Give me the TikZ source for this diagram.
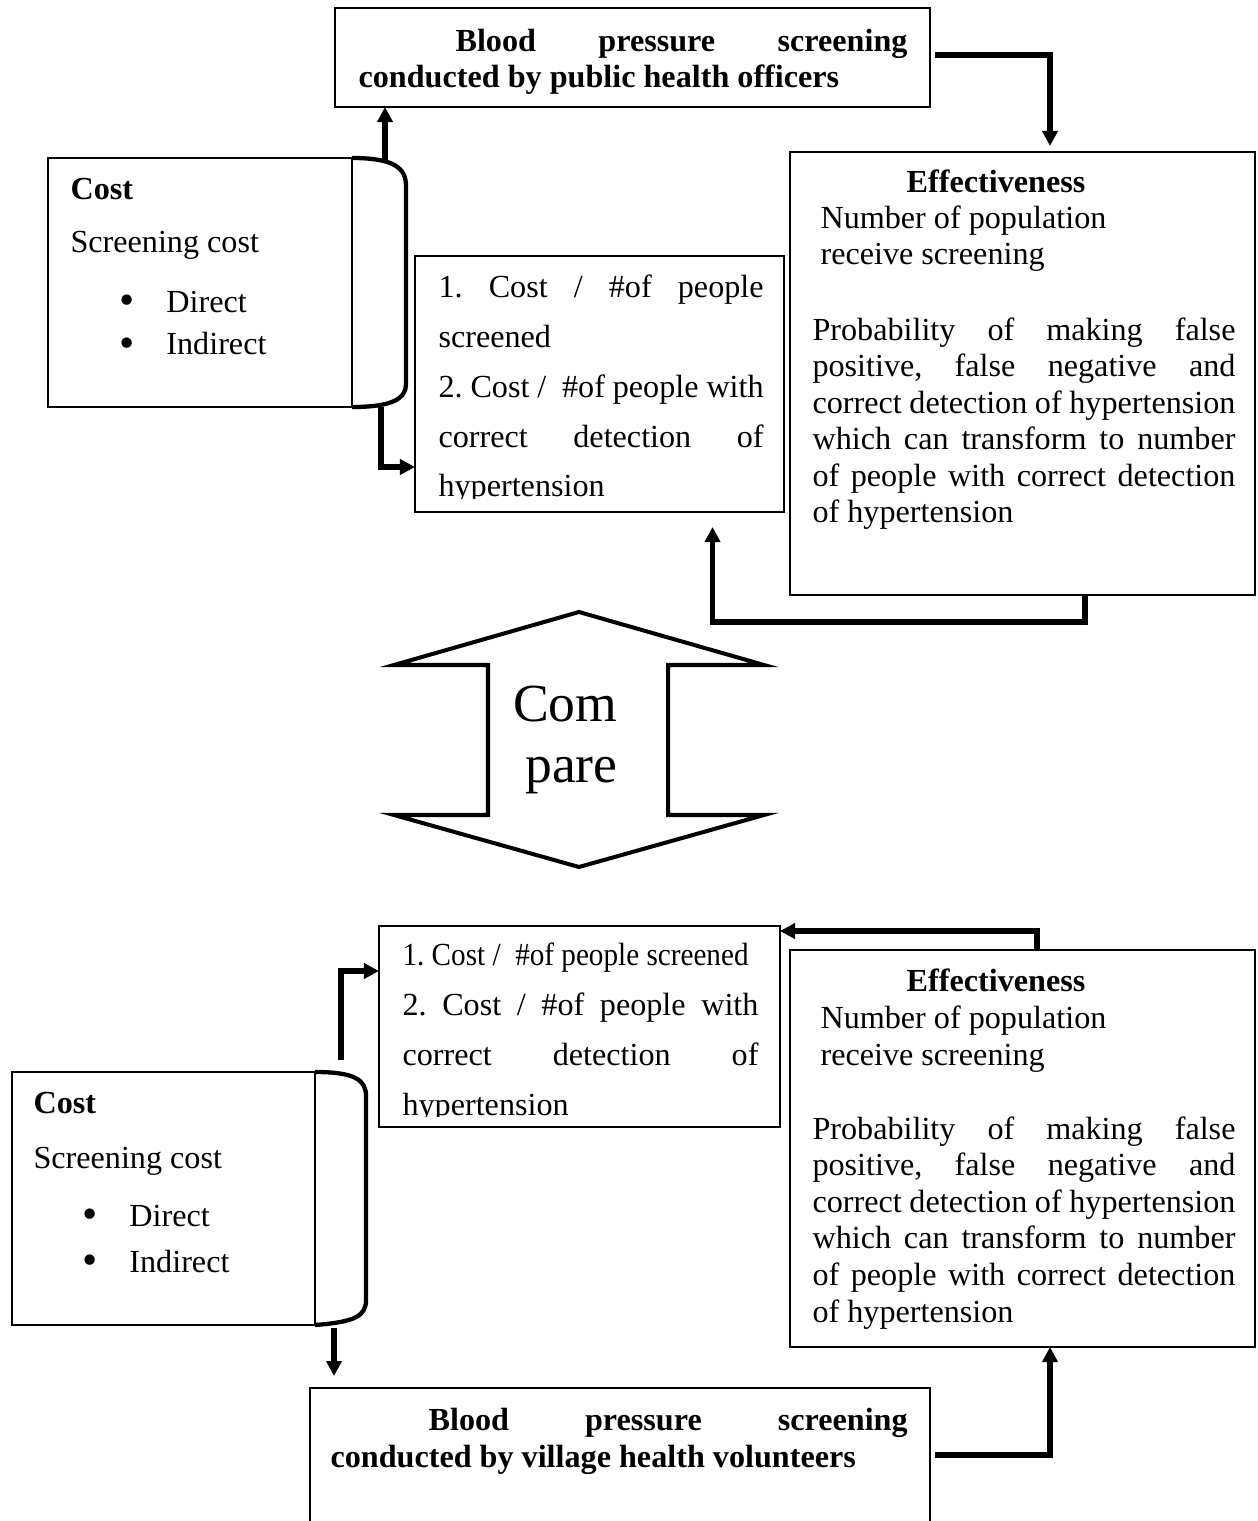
\documentclass[tikz,border=0pt]{standalone}
\usepackage{fontspec}
\setmainfont{Liberation Serif}
\usetikzlibrary{positioning,arrows.meta,fit,calc}
\newcommand{\bigdot}{\makebox[17.5pt][l]{\raisebox{-0.8pt}{\scalebox{1.35}{\textbullet}}}}

\begin{document}
\frenchspacing
\begin{tikzpicture}[x=0.3731pt,y=-0.3731pt,
		box/.style={draw,line width=1.1pt,inner sep=0pt,outer sep=0pt},
		txt/.style={inner sep=0pt,anchor=base west,align=left,font=\fontsize{12}{13.65}\selectfont},
		wide/.style={txt,font=\fontsize{12}{18.65}\selectfont},
		head/.style={txt,font=\bfseries\fontsize{12}{13.5}\selectfont},
		arr/.style={line width=2pt,-{Triangle[length=5.6pt,width=5.6pt]}},
		brace/.style={line width=1.6pt},
		cmp/.style={line width=1.5pt,line join=miter}]
		\useasboundingbox (0,0) rectangle (1257,1521);

		\node (top)   [box,fit={(335,8) (930,107)}] {};
		\node (cost1) [box,fit={(48,158) (352,407)}] {};
		\node (mid1)  [box,fit={(415,256) (784,512)}] {};
		\node (eff1)  [box,fit={(790,152) (1255,595)}] {};

		\node (toptxt) [head] at (358,88) {\hspace*{36.2pt}\makebox[168.6pt][s]{Blood pressure screening}\\conducted by public health officers};

		\node (c1a) [txt] at (70,200) {\textbf{Cost}};
		\node (c1b) [txt] at (70,253) {Screening cost};
		\node (c1c) [txt,font=\fontsize{12}{16}\selectfont] at (119,355) {\bigdot Direct\\\bigdot Indirect};
		\draw[brace] (cost1.north east) .. controls (394,158) and (406,168) .. (406,186) -- (406,384) .. controls (406,398) and (394,407) .. (cost1.south east);

		\begin{scope}
			\clip (mid1.north west) rectangle (784,499);
			\node (m1) [wide] at (438,497) {\makebox[121.3pt][s]{1. Cost / \#of people}\\screened\\\makebox[121.3pt][s]{2. Cost /\ \ \#of people with}\\\makebox[121.3pt][s]{correct detection of}\\hypertension};
		\end{scope}

		\node (e1a) [head,anchor=base] at (996,193) {Effectiveness};
		\node (e1b) [txt] at (820,265) {Number of population\\receive screening};
		\node (e1c) [txt] at (812,523) {\makebox[157.8pt][s]{Probability of making false}\\\makebox[157.8pt][s]{positive, false negative and}\\\makebox[157.8pt][s]{correct detection of hypertension}\\\makebox[157.8pt][s]{which can transform to number}\\\makebox[157.8pt][s]{of people with correct detection}\\of hypertension};

		\coordinate (b1top) at (385,163);
		\coordinate (b1bot) at (381,407);
		\draw[arr] (b1top) -- (b1top |- top.south);
		\draw[arr] (b1bot) |- ($(mid1.south west)+(0,-45)$);
		\draw[arr] ($(top.north east)+(5,47)$) -| ($(eff1.north west)+(260,-6)$);
		\draw[arr] ($(eff1.south west)+(295,0)$) -- ++(0,27) -| ($(mid1.south)+(113,15)$);

		\draw[cmp] (579,612) -- (764,665) -- (668,665) -- (668,815) -- (764,815) -- (579,867) -- (394,815) -- (488,815) -- (488,665) -- (394,665) -- cycle;
		\node (cmptxt) [inner sep=0pt,anchor=base east,align=right,font=\fontsize{20}{22.4}\selectfont] at (618,782) {Com\\pare};

		\node (mid2)  [box,fit={(379,926) (780,1127)}] {};
		\node (eff2)  [box,fit={(790,950) (1255,1347)}] {};
		\node (cost2) [box,fit={(12,1072) (315,1325)}] {};
		\node (bot)   [box,fit={(310,1388) (930,1560)}] {};

		\begin{scope}
			\clip (mid2.north west) rectangle (780,1116);
			\node (m2) [wide] at (402,1115) {\resizebox{129.1pt}{\height}{1. Cost /\ \ \#of people screened}\\\makebox[132.8pt][s]{2. Cost / \#of people with}\\\makebox[132.8pt][s]{correct detection of}\\hypertension};
		\end{scope}

		\node (e2a) [head,anchor=base] at (996,991) {Effectiveness};
		\node (e2b) [txt] at (820,1065) {Number of population\\receive screening};
		\node (e2c) [txt] at (812,1322) {\makebox[157.8pt][s]{Probability of making false}\\\makebox[157.8pt][s]{positive, false negative and}\\\makebox[157.8pt][s]{correct detection of hypertension}\\\makebox[157.8pt][s]{which can transform to number}\\\makebox[157.8pt][s]{of people with correct detection}\\of hypertension};

		\node (c2a) [txt] at (33,1113) {\textbf{Cost}};
		\node (c2b) [txt] at (33,1168) {Screening cost};
		\node (c2c) [txt,font=\fontsize{12}{17}\selectfont] at (82,1272) {\bigdot Direct\\\bigdot Indirect};
		\draw[brace] (cost2.north east) .. controls (355,1072) and (366,1080) .. (366,1096) -- (366,1300) .. controls (366,1316) and (355,1322) .. (cost2.south east);

		\node (bottxt) [head] at (330,1467) {\hspace*{36.6pt}\makebox[178.7pt][s]{Blood pressure screening}\\conducted by village health volunteers};

		\coordinate (b2top) at (341,1060);
		\coordinate (b2bot) at (334,1328);
		\draw[arr] (b2top) |- ($(mid2.north west)+(0,45)$);
		\draw[arr] (b2bot) -- ($(bot.north west)+(24,-12)$);
		\draw[arr] ($(eff2.north west)+(247,0)$) |- ($(mid2.north east)+(0,5)$);
		\draw[arr] ($(bot.north east)+(5,67)$) -| ($(eff2.south west)+(260,0)$);
	\end{tikzpicture}
\end{document}
